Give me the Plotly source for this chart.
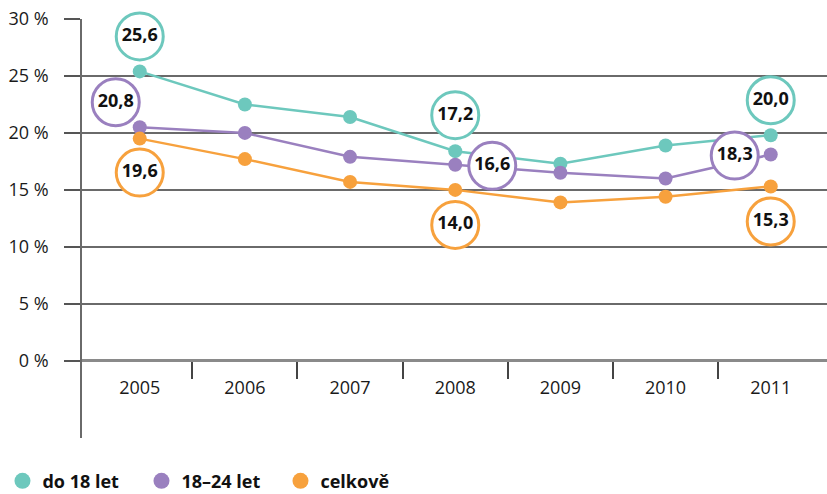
import plotly.graph_objects as go

years = ["2005", "2006", "2007", "2008", "2009", "2010", "2011"]
y_ticks = [0, 5, 10, 15, 20, 25, 30]
y_ticktext = ["0 %", "5 %", "10 %", "15 %", "20 %", "25 %", "30 %"]

names = ["do 18 let", "18–24 let", "celkově"]
do18 = [25.4, 22.5, 21.4, 18.4, 17.3, 18.9, 19.8]
v18_24 = [20.5, 20.0, 17.9, 17.2, 16.5, 16.0, 18.1]
celkove = [19.5, 17.7, 15.7, 15.0, 13.9, 14.4, 15.3]

# bubble labels: (series index, category index, text)
label_series = [0, 1, 2, 0, 1, 2, 0, 1, 2]
label_cat = [0, 0, 0, 3, 3, 3, 6, 6, 6]
label_text = ["25,6", "20,8", "19,6", "17,2", "16,6", "14,0", "20,0", "18,3", "15,3"]

# ---- styling / layout ----
colors = ["#6dc8bd", "#9a80bf", "#f7a13d"]
label_offsets_px = [(0, -35), (-24, -25), (0, 34),
                    (0, -36), (37, 1), (0, 35),
                    (0, -35), (-36, 1), (0, 35)]
W, H = 827, 494
ml, mr, mt, mb = 82, 0, 19, 56
x_range = [-0.549, 6.535]
y_range = [-6.78, 30]
px_per_x = (W - ml - mr) / (x_range[1] - x_range[0])
px_per_y = (H - mt - mb) / (y_range[1] - y_range[0])
FONT = "Open Sans"

series = [do18, v18_24, celkove]
xs = list(range(len(years)))

fig = go.Figure()
for name, vals, c in zip(names, series, colors):
    fig.add_trace(go.Scatter(
        x=xs, y=vals, name=name, mode="lines+markers",
        line=dict(color=c, width=2.5),
        marker=dict(color=c, size=14),
        cliponaxis=False, showlegend=False, hoverinfo="skip"))
    fig.add_trace(go.Scatter(
        x=[None], y=[None], name=name, mode="markers",
        marker=dict(color=c, size=20), showlegend=True))

for s, i, t, (dx, dy) in zip(label_series, label_cat, label_text, label_offsets_px):
    fig.add_trace(go.Scatter(
        x=[xs[i] + dx / px_per_x], y=[series[s][i] - dy / px_per_y],
        mode="markers+text", text=[t], textposition="middle center",
        textfont=dict(family=FONT, size=18, color="#111111", weight="bold"),
        marker=dict(size=47, color="white", line=dict(color=colors[s], width=3)),
        cliponaxis=False, showlegend=False, hoverinfo="skip"))

fig.update_layout(
    width=W, height=H,
    margin=dict(l=ml, r=mr, t=mt, b=mb, pad=0, autoexpand=False),
    paper_bgcolor="white", plot_bgcolor="white",
    font=dict(family=FONT, size=18, color="#1a1a1a"),
    showlegend=True,
    legend=dict(orientation="h", xref="container", yref="container",
                x=0.003, xanchor="left", y=0.026, yanchor="middle",
                font=dict(family=FONT, size=18, color="#111111", weight="bold"),
                itemsizing="trace", entrywidth=94, traceorder="normal"),
)
zero_frac = (0 - y_range[0]) / (y_range[1] - y_range[0])
fig.update_xaxes(
    range=x_range, tickmode="array", tickvals=xs, ticktext=years,
    ticks="", showgrid=False, zeroline=False, showline=False,
    anchor="free", position=zero_frac, ticklabelstandoff=14, automargin=False,
    tickfont=dict(family=FONT, size=18, color="#1a1a1a"),
    minor=dict(tickmode="array", tickvals=[i + 0.5 for i in xs[:-1]],
               ticks="outside", ticklen=17, tickwidth=1.5, tickcolor="#444444",
               showgrid=False),
)
fig.update_yaxes(
    range=y_range, tickmode="array", tickvals=y_ticks, ticktext=y_ticktext,
    ticks="outside", ticklen=16, tickwidth=1.5, tickcolor="#555555",
    showgrid=True, gridcolor="#6a6a6a", gridwidth=1.5,
    zeroline=True, zerolinecolor="#8a8a8a", zerolinewidth=3,
    showline=True, linecolor="#6a6a6a", linewidth=1.5,
    ticklabelstandoff=12, automargin=False,
    tickfont=dict(family=FONT, size=18, color="#1a1a1a"),
)

fig.write_html("out.html", config={"displayModeBar": False},
               post_script="document.body.style.margin='0';document.body.style.overflow='hidden';")
